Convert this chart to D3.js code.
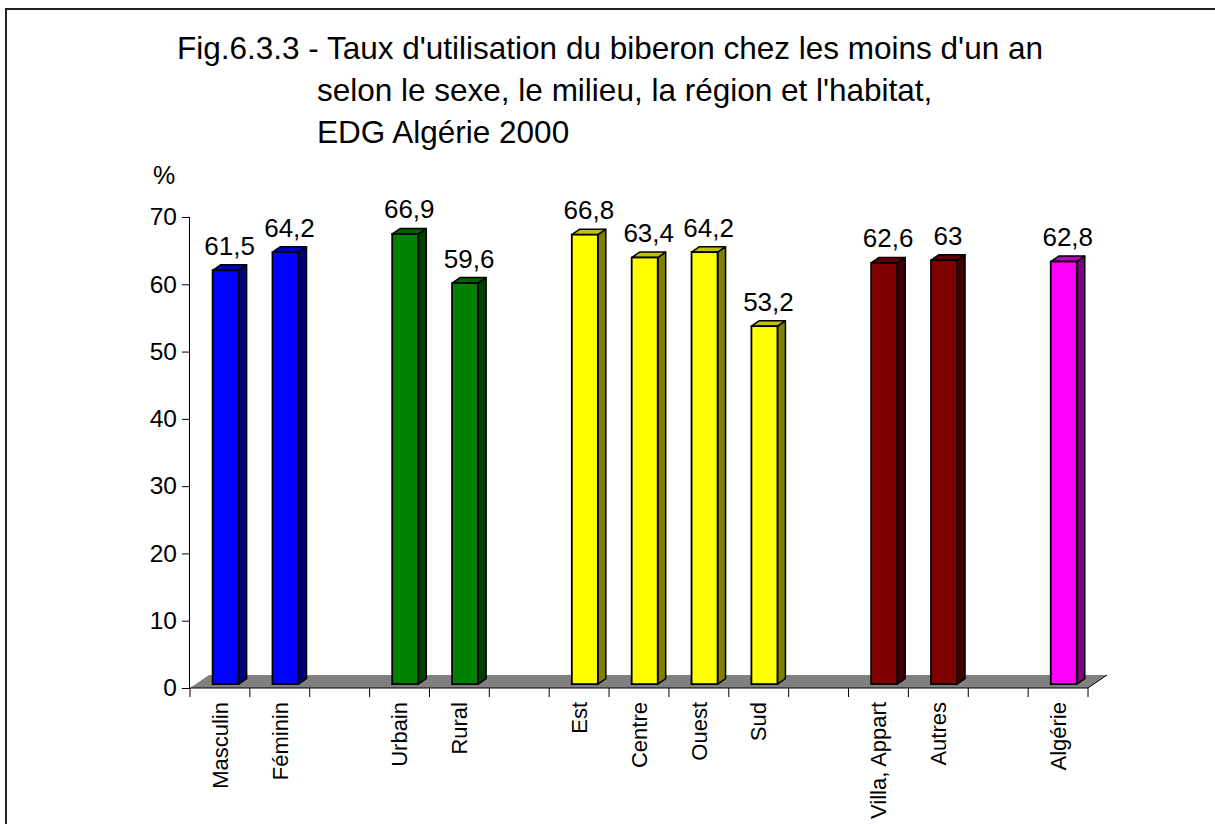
<!DOCTYPE html>
<html>
<head>
<meta charset="utf-8">
<script src="https://cdn.jsdelivr.net/npm/d3@7"></script>
<style>
  html, body { margin: 0; padding: 0; background: #fff; overflow: hidden; }
  svg { display: block; font-family: "Liberation Sans", Arial, sans-serif; }
</style>
</head>
<body>
<svg id="chart" width="1215" height="824"></svg>
<script>
// ---- data ----
const categories = ["Masculin", "Féminin", "", "Urbain", "Rural", "", "Est", "Centre", "Ouest", "Sud", "", "Villa, Appart", "Autres", "", "Algérie"];
const values     = [61.5, 64.2, null, 66.9, 59.6, null, 66.8, 63.4, 64.2, 53.2, null, 62.6, 63, null, 62.8];
const valueLabels = ["61,5", "64,2", "", "66,9", "59,6", "", "66,8", "63,4", "64,2", "53,2", "", "62,6", "63", "", "62,8"];
const groups     = ["sexe", "sexe", "", "milieu", "milieu", "", "region", "region", "region", "region", "", "habitat", "habitat", "", "total"];
const yTicks     = [0, 10, 20, 30, 40, 50, 60, 70];
const titleLines = ["Fig.6.3.3 - Taux d'utilisation du biberon chez les moins d'un an",
                    "selon le sexe, le milieu, la région et l'habitat,",
                    "EDG Algérie 2000"];

const palette = {
  sexe:    {front: "#0000FF", top: "#0000C0", side: "#000080"},
  milieu:  {front: "#008000", top: "#006000", side: "#004000"},
  region:  {front: "#FFFF00", top: "#C0C000", side: "#808000"},
  habitat: {front: "#800000", top: "#600000", side: "#400000"},
  total:   {front: "#FF00FF", top: "#C000C0", side: "#800080"}
};

const svg = d3.select("#chart");
const font = "Liberation Sans, Arial, sans-serif";

// frame
svg.append("rect").attr("x", 6).attr("y", 9).attr("width", 1400).attr("height", 1000)
  .attr("fill", "none").attr("stroke", "#222").attr("stroke-width", 2);

// title
const tx = [177, 317, 317], ty = [59, 101, 143];
titleLines.forEach((t, i) => {
  svg.append("text").attr("x", tx[i]).attr("y", ty[i]).attr("font-size", 31.5)
    .attr("fill", "#000").text(t);
});

// scales
const x0 = 190, x1 = 1088, yTop = 217, yBase = 688;
const x = d3.scaleBand().domain(d3.range(categories.length)).range([x0, x1]).paddingInner(0).paddingOuter(0);
const y = d3.scaleLinear().domain([0, 70]).range([yBase, yTop]);

const depth = {dx: 19, dy: -13};
const f0 = 0.3, f1 = 0.72;
const barW = x.bandwidth() * 0.435;

// floor
svg.append("polygon")
  .attr("points", [[x0, yBase], [x1, yBase], [x1 + depth.dx, yBase + depth.dy], [x0 + depth.dx, yBase + depth.dy]].map(p => p.join(",")).join(" "))
  .attr("fill", "#808080");

// y axis
const yAxis = d3.axisLeft(y).tickValues(yTicks).tickSize(8).tickPadding(5);
const ya = svg.append("g").attr("transform", `translate(${x0},0)`).call(yAxis);
ya.select(".domain").attr("d", `M-0.5,${yTop}V${yBase}`).attr("stroke", "#000");
ya.selectAll(".tick line").attr("stroke", "#000");
ya.selectAll(".tick text").attr("font-size", 24.5).attr("font-family", font).attr("fill", "#000");

svg.append("text").attr("x", 153).attr("y", 184).attr("font-size", 25).attr("fill", "#000").text("%");

// x axis: tick marks at band boundaries
const bounds = d3.range(categories.length + 1).map(i => x0 + i * x.step());
svg.append("line").attr("x1", x0).attr("x2", x1).attr("y1", yBase).attr("y2", yBase).attr("stroke", "#000");
svg.append("line").attr("x1", x1).attr("x2", x1 + depth.dx).attr("y1", yBase).attr("y2", yBase + depth.dy).attr("stroke", "#000");
svg.selectAll(".xtick").data(bounds).enter().append("line")
  .attr("x1", d => d).attr("x2", d => d).attr("y1", yBase).attr("y2", yBase + 9).attr("stroke", "#000");

// category labels
svg.selectAll(".xlab").data(categories).enter().append("text")
  .attr("transform", (d, i) => `translate(${x(i) + x.bandwidth() / 2},702) rotate(-90)`)
  .attr("text-anchor", "end").attr("dy", "0.35em").attr("font-size", 22).attr("fill", "#000")
  .text(d => d);

// bars (3D)
const barData = values.map((v, i) => ({v, i, g: groups[i], lab: valueLabels[i]})).filter(d => d.v !== null);
const bars = svg.selectAll(".bar").data(barData).enter().append("g");
bars.each(function(d) {
  const g = d3.select(this);
  const c = palette[d.g];
  const cx = x(d.i) + x.bandwidth() / 2;
  const fdx = depth.dx * f0, fdy = depth.dy * f0;
  const bdx = depth.dx * (f1 - f0), bdy = depth.dy * (f1 - f0);
  const L = cx + fdx - barW / 2, R = cx + fdx + barW / 2;
  const T = y(d.v) + fdy, B = y(0) + fdy;
  const pts = a => a.map(p => p.join(",")).join(" ");
  g.append("polygon").attr("points", pts([[R, B], [R + bdx, B + bdy], [R + bdx, T + bdy], [R, T]]))
    .attr("fill", c.side).attr("stroke", "#000").attr("stroke-width", 1.5).attr("stroke-linejoin", "round");
  g.append("polygon").attr("points", pts([[L, T], [R, T], [R + bdx, T + bdy], [L + bdx, T + bdy]]))
    .attr("fill", c.top).attr("stroke", "#000").attr("stroke-width", 1.5).attr("stroke-linejoin", "round");
  g.append("rect").attr("x", L).attr("y", T).attr("width", barW).attr("height", B - T)
    .attr("fill", c.front).attr("stroke", "#000").attr("stroke-width", 1.8);
  g.append("text").attr("x", cx + fdx + 4).attr("y", T + bdy - 10)
    .attr("text-anchor", "middle").attr("font-size", 26).attr("fill", "#000").text(d.lab);
});
</script>
</body>
</html>
